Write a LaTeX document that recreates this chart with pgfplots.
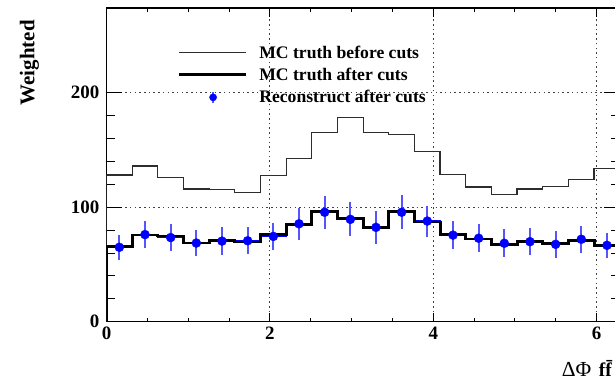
\documentclass[border=0pt]{standalone}
\usepackage{fontspec}
\setmainfont{Liberation Serif}
\usepackage{pgfplots}
\usepackage{pgfplotstable}
\pgfplotsset{compat=1.18}

\definecolor{errblue}{RGB}{85,85,255}
\definecolor{thinline}{RGB}{45,45,45}

% 20 bins of width pi/10 over [0, 2pi]; bin contents given at the lower bin edge,
% the first row closes the outline down to zero at the origin
\pgfplotstableread{
x        before  after
0.00000    0.0    0.0
0.00000  128.2   65.5
0.31416  136.0   75.8
0.62832  125.7   74.8
0.94248  115.8   68.7
1.25664  115.2   70.9
1.57080  112.6   69.7
1.88496  128.0   76.5
2.19911  142.6   84.8
2.51327  165.5   96.0
2.82743  178.5   89.8
3.14159  165.3   82.3
3.45575  163.3   96.2
3.76991  148.4   87.0
4.08407  128.6   76.2
4.39823  117.6   72.2
4.71239  110.8   67.5
5.02655  115.8   70.1
5.34071  118.0   68.1
5.65487  124.2   71.2
5.96903  134.1   66.7
6.28319  134.1   66.7
}\truthtable

% reconstructed events: bin centre, lower bin edge, content, statistical error
\pgfplotstableread{
xc       edge     y      e
0.15708  0.00000  65.0   10.7
0.47124  0.31416  76.1   12.1
0.78540  0.62832  73.5   11.7
1.09956  0.94248  68.7   11.4
1.41372  1.25664  70.4   12.0
1.72788  1.57080  70.7   12.0
2.04204  1.88496  74.5   12.0
2.35619  2.19911  85.5   13.9
2.67035  2.51327  95.6   14.3
2.98451  2.82743  89.4   14.8
3.29867  3.14159  82.4   14.5
3.61283  3.45575  95.6   15.0
3.92699  3.76991  87.9   13.5
4.24115  4.08407  75.6   12.5
4.55531  4.39823  72.9   12.0
4.86947  4.71239  68.5   12.3
5.18363  5.02655  69.9   11.8
5.49779  5.34071  67.6   11.6
5.81195  5.65487  72.0   11.7
6.12611  5.96903  66.7   11.0
}\recotable

\begin{document}
\begin{tikzpicture}
\begin{axis}[
  at={(0,0)}, anchor=south west,
  scale only axis, width=513.3bp, height=313.7bp,
  xmin=0, xmax=6.28319, ymin=0, ymax=274,
  xtick={0,2,4,6}, ytick={0,100,200},
  minor x tick num=3, minor y tick num=4,
  tick align=inside,
  major tick length=16bp, minor tick length=9bp,
  xtick style={/pgfplots/major tick length=9bp, /pgfplots/minor tick length=4bp},
  tick style={black, line width=1bp},
  axis line style={line width=1.5bp},
  grid=major,
  major grid style={black!75, line width=1bp, dash pattern=on 1.5bp off 3.2bp},
  /pgf/number format/assume math mode=true,
  tick label style={font=\fontsize{19}{19}\selectfont\bfseries},
  xticklabel style={anchor=north, inner sep=0pt, yshift=-5bp},
  yticklabel style={anchor=east, inner sep=0pt, xshift=-7bp},
  ylabel={Weighted},
  every axis y label/.style={at={(rel axis cs:-0.15,0.9617)}, rotate=90, anchor=east,
    inner sep=0pt, font=\fontsize{21}{21}\selectfont\bfseries},
  xlabel={{\fontsize{21.5}{21.5}\selectfont\char"0394\char"03A6}\hspace{7.5bp}\textbf{f\=f}},
  every axis x label/.style={at={(rel axis cs:0,0)}, anchor=base west,
    xshift=455.2bp, yshift=-54.3bp, inner sep=0pt, font=\fontsize{19.5}{19.5}\selectfont},
  legend style={at={(rel axis cs:0.1393,0.877)}, anchor=north west, draw=none, fill=none,
    inner sep=0pt, outer sep=0pt, row sep=8bp, column sep=11.5bp,
    font=\fontsize{17.7}{17.7}\selectfont\bfseries, nodes={inner sep=0pt, outer sep=0pt}},
  legend cell align=left,
]
% MC truth before cuts
\addplot[const plot, thinline, line width=1.3bp,
  legend image code/.code={\draw[thinline, line width=1.3bp] (0bp,1bp) -- (67bp,1bp);}]
  table[x=x, y=before] {\truthtable};
\addlegendentry{MC truth before cuts}

% reconstructed histogram outline, underneath the truth
\addplot[const plot, blue, line width=1.2bp, forget plot]
  table[x=edge, y=y] {\recotable};

% MC truth after cuts
\addplot[const plot, black, line width=2.8bp,
  legend image code/.code={\draw[black, line width=2.8bp] (0bp,1bp) -- (67bp,1bp);}]
  table[x=x, y=after] {\truthtable};
\addlegendentry{MC truth after cuts}

% reconstructed after cuts
\addplot[only marks, mark=*, mark size=4.5bp, mark options={draw=blue, fill=blue},
  legend image code/.code={
    \path[draw=none, fill=none] (0bp,0bp) -- (67bp,0bp);
    \draw[errblue, line width=1.8bp] (33.7bp,-5.5bp) -- (33.7bp,5.5bp);
    \fill[blue] (33.7bp,0bp) circle (3.6bp);},
  error bars/.cd, y dir=both, y explicit,
  error bar style={errblue, line width=1.8bp}, error mark=none]
  table[x=xc, y=y, y error=e] {\recotable};
\addlegendentry{Reconstruct after cuts}
\end{axis}
\pgfresetboundingbox
\useasboundingbox (-106.5bp,-56.3bp) rectangle (508.5bp,321.7bp);
\end{tikzpicture}
\end{document}
